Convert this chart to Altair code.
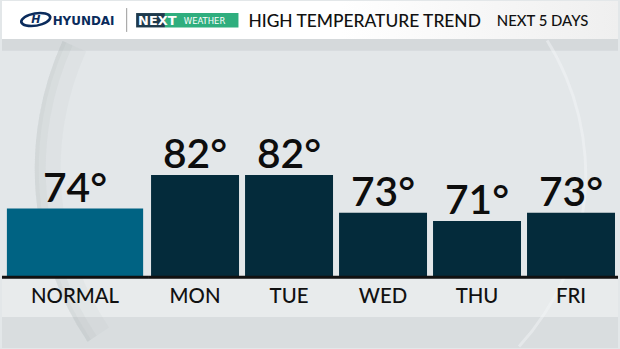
import math
import altair as alt
import pandas as pd

# ---- data ----
normal_cats = ["NORMAL"]
normal_vals = [74]
day_cats = ["MON", "TUE", "WED", "THU", "FRI"]
day_vals = [82, 82, 73, 71, 73]
title_text = "HIGH TEMPERATURE TREND"
subtitle_text = "NEXT 5 DAYS"
brand_text = "HYUNDAI"

Y_DOMAIN = [40.6, 114.65]
BASE = 57.5
BODY_H = 311
HEAD_H = 38
TOTAL_H = HEAD_H + BODY_H
FONT = "Lato"
one = alt.Data(values=[{}])


def deco_rect(x1, x2, y1, y2, color, opacity=1):
    return alt.Chart(one).mark_rect(color=color, opacity=opacity).encode(
        x=alt.value(x1), x2=alt.value(x2), y=alt.value(y1), y2=alt.value(y2)
    )


def deco_arc(cx, cy, r_in, r_out, a0, a1, color, opacity):
    return alt.Chart(one).mark_arc(
        theta=math.radians(a0), theta2=math.radians(a1),
        innerRadius=r_in, outerRadius=r_out, color=color, opacity=opacity
    ).encode(x=alt.value(cx), y=alt.value(cy))


def panel(cats, vals, color, width, pi, po):
    df = pd.DataFrame({"day": cats, "temp": vals, "label": [f"{v}°" for v in vals]})
    x = alt.X("day:N", sort=cats, axis=None,
              scale=alt.Scale(paddingInner=pi, paddingOuter=po))
    y = alt.Y("temp:Q", axis=None,
              scale=alt.Scale(domain=Y_DOMAIN, nice=False, zero=False))
    base = alt.Chart(df)
    bars = base.mark_bar(color=color).encode(x=x, y=y, y2=alt.datum(BASE))
    vals_t = base.mark_text(baseline="alphabetic", dy=-7, fontSize=41,
                            font=FONT, fontWeight=600, color="#0d0d0d").encode(
        x=x, y=y, text="label")
    labs = base.mark_text(baseline="alphabetic", fontSize=20.5, font=FONT,
                          fontWeight=500, color="#111111").encode(
        x=x, y=alt.value(266), text="day")
    rule = alt.Chart(one).mark_rule(strokeWidth=3, color="#111111").encode(
        x=alt.value(0), x2=alt.value(width), y=alt.value(240))
    return alt.layer(bars, vals_t, labs, rule).properties(
        width=width, height=BODY_H)


normal_panel = panel(normal_cats, normal_vals, "#006383", 147, 0, 0.036)
days_panel = panel(day_cats, day_vals, "#042b3b", 473, 0.064, 0.032)

# ---- background (drawn first, beneath the panels) ----
background = [
    deco_rect(0, 620, HEAD_H, TOTAL_H, "#e3e7e9"),
    deco_rect(0, 620, HEAD_H, 50, "#d5d9db"),
    deco_rect(0, 620, 280, 318, "#e8ebec"),
    deco_rect(0, 620, 318, TOTAL_H, "#d9dddf"),
    # sphere shadow edge (left) and rim highlight (right)
    deco_arc(344, 169, 285, 311, 236, 294.5, "#a9aeb1", 0.08),
    deco_arc(344, 169, 300, 311, 236, 294.5, "#a9aeb1", 0.10),
    deco_arc(344, 169, 307, 311, 236, 294.5, "#a9aeb1", 0.10),
    deco_arc(332, 175, 254, 257, 58, 132.5, "#f4f7f9", 0.45),
]

# ---- header ----
head_bg = alt.Chart(one).mark_rect(
    color=alt.Gradient(gradient="linear",
                       stops=[alt.GradientStop(color="#ffffff", offset=0),
                              alt.GradientStop(color="#ffffff", offset=0.55),
                              alt.GradientStop(color="#efefef", offset=1)],
                       x1=0, x2=1, y1=0, y2=0)
).encode(x=alt.value(0), x2=alt.value(620), y=alt.value(0), y2=alt.value(HEAD_H))

logo_ellipse = alt.Chart(one).mark_point(
    shape="M-1,0 A1,0.42 -10 1,1 1,0 A1,0.42 -10 1,1 -1,0 Z",
    filled=False, strokeWidth=2.6, size=760, color="#0a2b5c", opacity=1
).encode(x=alt.value(34), y=alt.value(18.5))
logo_h = alt.Chart(one).mark_text(text="H", font="DejaVu Sans", fontSize=11,
                                  fontWeight="bold", fontStyle="italic",
                                  color="#0a2b5c").encode(
    x=alt.value(34), y=alt.value(19))
brand = alt.Chart(one).mark_text(text=brand_text, font="DejaVu Sans", fontSize=12,
                                 fontWeight="bold", align="left",
                                 baseline="alphabetic", color="#0a2b5c").encode(
    x=alt.value(51), y=alt.value(24.5))
divider = alt.Chart(one).mark_rule(color="#9a9a9a", strokeWidth=1).encode(
    x=alt.value(125.5), y=alt.value(7), y2=alt.value(31))
next_dark = deco_rect(135, 164, 12, 26.5, "#1e3a4c")
next_green = deco_rect(164, 238, 12, 26.5, "#2fae7e")
next_t = alt.Chart(one).mark_text(text="NEXT", font="DejaVu Sans", fontSize=13,
                                  fontWeight="bold", align="left",
                                  baseline="alphabetic", color="#ffffff").encode(
    x=alt.value(137), y=alt.value(24.5))
weather_t = alt.Chart(one).mark_text(text="WEATHER", font="DejaVu Sans", fontSize=8.5,
                                     align="left", baseline="alphabetic",
                                     color="#ffffff").encode(
    x=alt.value(183), y=alt.value(23))
title_t = alt.Chart(one).mark_text(text=title_text, font=FONT, fontSize=17.5,
                                   fontWeight=500, align="left",
                                   baseline="alphabetic", color="#111111").encode(
    x=alt.value(248), y=alt.value(26))
sub_t = alt.Chart(one).mark_text(text=subtitle_text, font=FONT, fontSize=15,
                                 fontWeight=500, align="left",
                                 baseline="alphabetic", color="#111111").encode(
    x=alt.value(498), y=alt.value(25.5))

header = alt.layer(*background, head_bg, logo_ellipse, logo_h, brand, divider,
                   next_dark, next_green, next_t, weather_t, title_t,
                   sub_t).properties(width=620, height=HEAD_H)

body = alt.hconcat(normal_panel, days_panel, spacing=0, bounds="flush")
chart = alt.vconcat(header, body, spacing=0, bounds="flush").properties(
    background="#e3e7e9", padding=0
).configure_view(strokeWidth=0, stroke="transparent").configure_concat(spacing=0)

chart.save("out.html", embed_options={"renderer": "svg", "actions": False})
